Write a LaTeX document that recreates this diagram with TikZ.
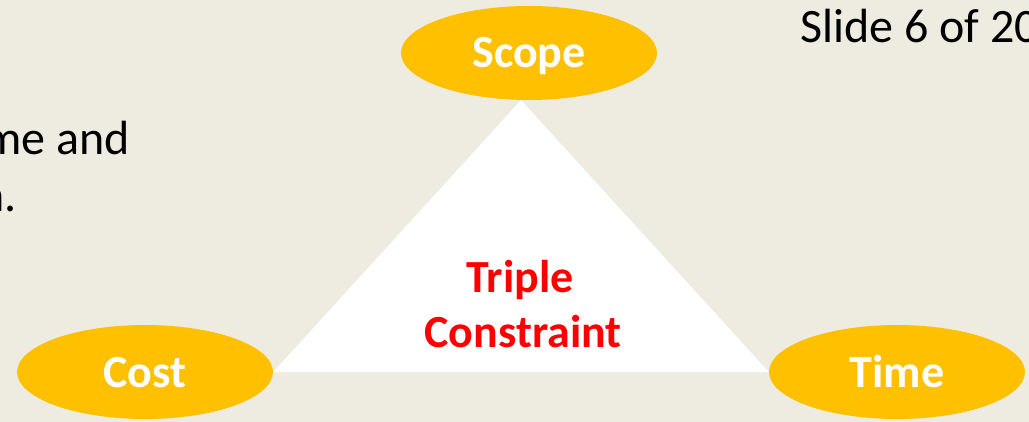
\documentclass[tikz,border=0pt]{standalone}
\usepackage{fontspec}
\setmainfont{Carlito}
\usepackage{tikz}
\usetikzlibrary{shapes.geometric,positioning}
\definecolor{slidebg}{HTML}{EEECE1}
\definecolor{gold}{HTML}{FFC000}
\definecolor{alarm}{HTML}{FF0000}

\begin{document}
\begin{tikzpicture}[
  x=1pt,y=-1pt,
  corner/.style={ellipse,fill=gold,minimum width=256pt,minimum height=94pt,
                 inner sep=0pt,text=white,text height=30pt,text depth=0pt,
                 font=\bfseries\fontsize{46}{55}\selectfont},
  body/.style={inner sep=0pt,font=\fontsize{48}{57}\selectfont},
  centre/.style={inner sep=0pt,text=alarm,font=\bfseries\fontsize{46}{55}\selectfont},
]

% ---- Slide background
\useasboundingbox (0,0) rectangle (1029,422);
\fill[slidebg] (0,0) rectangle (1029,422);

% ---- Slide text
\node[body,anchor=base west] (slide) at (800,43) {Slide 6 of 20};
\node[body,anchor=base east] (line1) at (130,155) {me and};
\node[body,anchor=base east] (line2) at (17,212) {n.};

% ---- The three corners
\node[corner] (scope) at (529,53)  {Scope};
\node[corner] (cost)  at (145,372) {Cost};
\node[corner] (time)  at (897,372) {Time};

% ---- Triangle between them
\fill[white] ([xshift=-8pt]scope.south) -- (cost.east) -- (time.west) -- cycle;

\node[centre,anchor=base] (triple) at (520,293) {Triple};
\node[centre,anchor=base] (constr) at (523,348) {Constraint};

\end{tikzpicture}
\end{document}
